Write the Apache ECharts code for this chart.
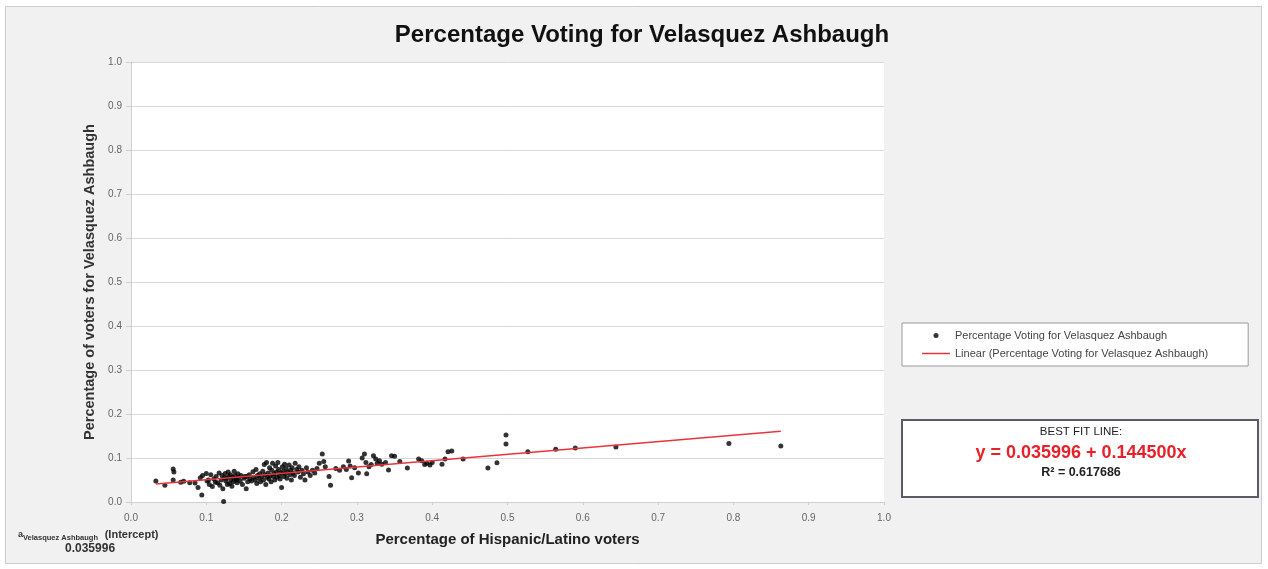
<!DOCTYPE html>
<html>
<head>
<meta charset="utf-8">
<title>Percentage Voting for Velasquez Ashbaugh</title>
<script src="https://cdn.jsdelivr.net/npm/echarts@6/dist/echarts.min.js"></script>
<style>
  html, body { margin: 0; padding: 0; background: #fff; }
  #chart { width: 1268px; height: 569px; }
</style>
</head>
<body>
<div id="chart"></div>
<script>
// share of Hispanic/Latino voters per precinct
var hispanicShare = [
  0.033, 0.045, 0.056, 0.057, 0.056, 0.066, 0.070, 0.078, 0.085, 0.089, 0.094, 0.092, 0.095,
  0.100, 0.101, 0.103, 0.104, 0.106, 0.108, 0.110, 0.112, 0.113, 0.115, 0.117, 0.118, 0.120,
  0.121, 0.122, 0.123, 0.124, 0.125, 0.126, 0.127, 0.128, 0.129, 0.130, 0.131, 0.132, 0.133,
  0.134, 0.135, 0.136, 0.137, 0.138, 0.139, 0.140, 0.141, 0.142, 0.143, 0.145, 0.146, 0.148,
  0.150, 0.151, 0.153, 0.154, 0.155, 0.157, 0.158,
  0.160, 0.162, 0.163, 0.165, 0.166, 0.167, 0.168, 0.170, 0.171, 0.172, 0.174, 0.175, 0.176,
  0.177, 0.178, 0.179, 0.180, 0.181, 0.182, 0.183, 0.184, 0.185, 0.186, 0.187, 0.188, 0.189,
  0.190, 0.191, 0.192, 0.193, 0.194, 0.195, 0.196, 0.197, 0.198, 0.199, 0.200, 0.201, 0.202,
  0.203, 0.204, 0.205, 0.206, 0.207, 0.208, 0.210, 0.211, 0.212, 0.213, 0.214, 0.215, 0.217,
  0.218, 0.220, 0.222, 0.223, 0.225, 0.227, 0.229, 0.231, 0.233, 0.235, 0.238, 0.241, 0.244,
  0.247, 0.250, 0.254, 0.256, 0.258, 0.263, 0.265,
  0.272, 0.277, 0.282, 0.286, 0.289, 0.291, 0.293, 0.297, 0.302, 0.307, 0.310, 0.312, 0.313,
  0.316, 0.319, 0.322, 0.325, 0.327, 0.330, 0.333, 0.338, 0.342, 0.346, 0.350, 0.357, 0.367,
  0.382, 0.386, 0.390, 0.393, 0.397, 0.400, 0.413, 0.417, 0.421, 0.426, 0.441,
  0.474, 0.486, 0.498, 0.498, 0.527, 0.564, 0.590, 0.644, 0.794, 0.863
];
// share voting for Velasquez Ashbaugh, same order
var votingShare = [
  0.048, 0.038, 0.075, 0.068, 0.050, 0.045, 0.047, 0.044, 0.043, 0.033, 0.016, 0.055, 0.060,
  0.065, 0.048, 0.050, 0.040, 0.062, 0.035, 0.052, 0.045, 0.058, 0.044, 0.066, 0.038, 0.050,
  0.060, 0.030, 0.001, 0.055, 0.065, 0.048, 0.054, 0.040, 0.068, 0.058, 0.042, 0.062, 0.050,
  0.036, 0.056, 0.046, 0.070, 0.060, 0.052, 0.050, 0.044, 0.064, 0.056, 0.048, 0.060, 0.040,
  0.054, 0.058, 0.030, 0.058, 0.046, 0.062, 0.052,
  0.048, 0.069, 0.056, 0.050, 0.074, 0.042, 0.060, 0.054, 0.064, 0.046, 0.058, 0.070, 0.050,
  0.085, 0.062, 0.040, 0.090, 0.056, 0.066, 0.052, 0.078, 0.060, 0.046, 0.072, 0.088, 0.058,
  0.064, 0.050, 0.082, 0.068, 0.056, 0.090, 0.074, 0.060, 0.052, 0.066, 0.033, 0.080, 0.070,
  0.058, 0.086, 0.064, 0.076, 0.054, 0.068, 0.084, 0.062, 0.072, 0.050, 0.078, 0.066, 0.060,
  0.088, 0.074, 0.068, 0.080, 0.056, 0.072, 0.064, 0.050, 0.078, 0.068, 0.060, 0.072, 0.066,
  0.076, 0.088, 0.109, 0.092, 0.080, 0.058, 0.038,
  0.076, 0.072, 0.080, 0.074, 0.093, 0.082, 0.055, 0.078, 0.066, 0.100, 0.109, 0.090, 0.064,
  0.080, 0.085, 0.105, 0.098, 0.088, 0.094, 0.086, 0.090, 0.073, 0.105, 0.104, 0.092, 0.077,
  0.098, 0.094, 0.085, 0.088, 0.084, 0.090, 0.086, 0.098, 0.114, 0.116, 0.098,
  0.077, 0.089, 0.132, 0.152, 0.114, 0.120, 0.123, 0.125, 0.133, 0.127
];
var intercept = 0.035996;
var slope = 0.144500;
var rSquared = 0.617686;
var trendRange = [0.033, 0.863];

var seriesName = 'Percentage Voting for Velasquez Ashbaugh';
var trendName = 'Linear (Percentage Voting for Velasquez Ashbaugh)';

var points = [];
for (var i = 0; i < hispanicShare.length; i++) {
  points.push([hispanicShare[i], votingShare[i]]);
}
// best fit line drawn from its own equation
var trend = trendRange.map(function (x) { return [x, intercept + slope * x]; });

var chart = echarts.init(document.getElementById('chart'));
var font = 'Liberation Sans, Arial, sans-serif';

var option = {
  backgroundColor: '#fff',
  animation: false,
  textStyle: { fontFamily: font },
  title: {
    text: 'Percentage Voting for Velasquez Ashbaugh',
    left: 637, top: 18, textAlign: 'center',
    textStyle: { fontSize: 24, fontWeight: 'bold', color: '#111', fontFamily: font }
  },
  legend: {
    orient: 'vertical',
    left: 902, top: 323,
    padding: [7, 40, 7, 20],
    itemGap: 7,
    itemWidth: 28, itemHeight: 5,
    backgroundColor: '#fff',
    borderColor: '#9a9a9a', borderWidth: 1,
    textStyle: { fontSize: 11, color: '#444', fontFamily: font },
    data: [
      { name: seriesName, icon: 'circle', itemStyle: { color: '#000' } },
      { name: trendName, icon: 'path://M0,4 L28,4 L28,5.5 L0,5.5 Z', itemStyle: { color: '#e8353b' } }
    ]
  },
  grid: {
    left: 131, right: 384, top: 62, bottom: 67,
    show: true, backgroundColor: '#fff', borderWidth: 0
  },
  xAxis: {
    type: 'value', min: 0, max: 1, interval: 0.1,
    name: 'Percentage of Hispanic/Latino voters',
    nameLocation: 'middle', nameGap: 30,
    nameTextStyle: { fontSize: 15, fontWeight: 'bold', color: '#222' },
    axisLine: { show: true, lineStyle: { color: '#d0d0d0' } },
    axisTick: { show: true, length: 3, lineStyle: { color: '#d0d0d0' } },
    axisLabel: {
      fontSize: 10, color: '#666', margin: 11,
      formatter: function (v) { return v.toFixed(1); }
    },
    splitLine: { show: false }
  },
  yAxis: {
    type: 'value', min: 0, max: 1, interval: 0.1,
    name: 'Percentage of voters for Velasquez Ashbaugh',
    nameLocation: 'middle', nameGap: 33,
    nameTextStyle: { fontSize: 14.5, fontWeight: 'bold', color: '#333' },
    axisLine: { show: true, lineStyle: { color: '#cfcfcf' } },
    axisTick: { show: true, length: 5, lineStyle: { color: '#cfcfcf' } },
    axisLabel: {
      fontSize: 10, color: '#666', margin: 9,
      formatter: function (v) { return v.toFixed(1); }
    },
    splitLine: { show: true, lineStyle: { color: '#d9d9d9', width: 1 } }
  },
  graphic: [
    {
      type: 'rect', z: -10, silent: true,
      shape: { x: 5.5, y: 6.5, width: 1256, height: 557 },
      style: { fill: '#f1f1f1', stroke: '#cccccc', lineWidth: 1 }
    },
    {
      type: 'rect', silent: true,
      shape: { x: 902, y: 420, width: 356, height: 77 },
      style: { fill: '#fff', stroke: '#595b66', lineWidth: 2 }
    },
    {
      type: 'text', silent: true,
      style: {
        text: 'BEST FIT LINE:', x: 1081, y: 432, align: 'center', verticalAlign: 'middle',
        font: '11.5px ' + font, fill: '#222'
      }
    },
    {
      type: 'text', silent: true,
      style: {
        text: 'y = ' + intercept.toFixed(6) + ' + ' + slope.toFixed(6) + 'x',
        x: 1081, y: 453, align: 'center', verticalAlign: 'middle',
        font: 'bold 18px ' + font, fill: '#e8202a'
      }
    },
    {
      type: 'text', silent: true,
      style: {
        text: 'R\u00b2 = ' + rSquared.toFixed(6),
        x: 1081, y: 473, align: 'center', verticalAlign: 'middle',
        font: 'bold 12.5px ' + font, fill: '#222'
      }
    },
    {
      type: 'text', silent: true,
      style: {
        text: '{a|a}{s|Velasquez Ashbaugh}  {b|(Intercept)}',
        x: 18, y: 528,
        rich: {
          a: { font: 'bold 9px ' + font, fill: '#333' },
          s: { font: 'bold 7.5px ' + font, fill: '#333', padding: [6, 0, 0, 0] },
          b: { font: 'bold 11px ' + font, fill: '#333' }
        }
      }
    },
    {
      type: 'text', silent: true,
      style: {
        text: intercept.toFixed(6),
        x: 65, y: 543,
        font: 'bold 12px ' + font, fill: '#333'
      }
    }
  ],
  series: [
    {
      name: seriesName,
      type: 'scatter',
      symbol: 'circle',
      symbolSize: 5,
      itemStyle: { color: '#000' },
      data: points,
      z: 3
    },
    {
      name: trendName,
      type: 'line',
      data: trend,
      symbol: 'none',
      lineStyle: { color: '#e8353b', width: 1.5 },
      itemStyle: { color: '#e8353b' },
      z: 4
    }
  ]
};

chart.setOption(option);
</script>
</body>
</html>
